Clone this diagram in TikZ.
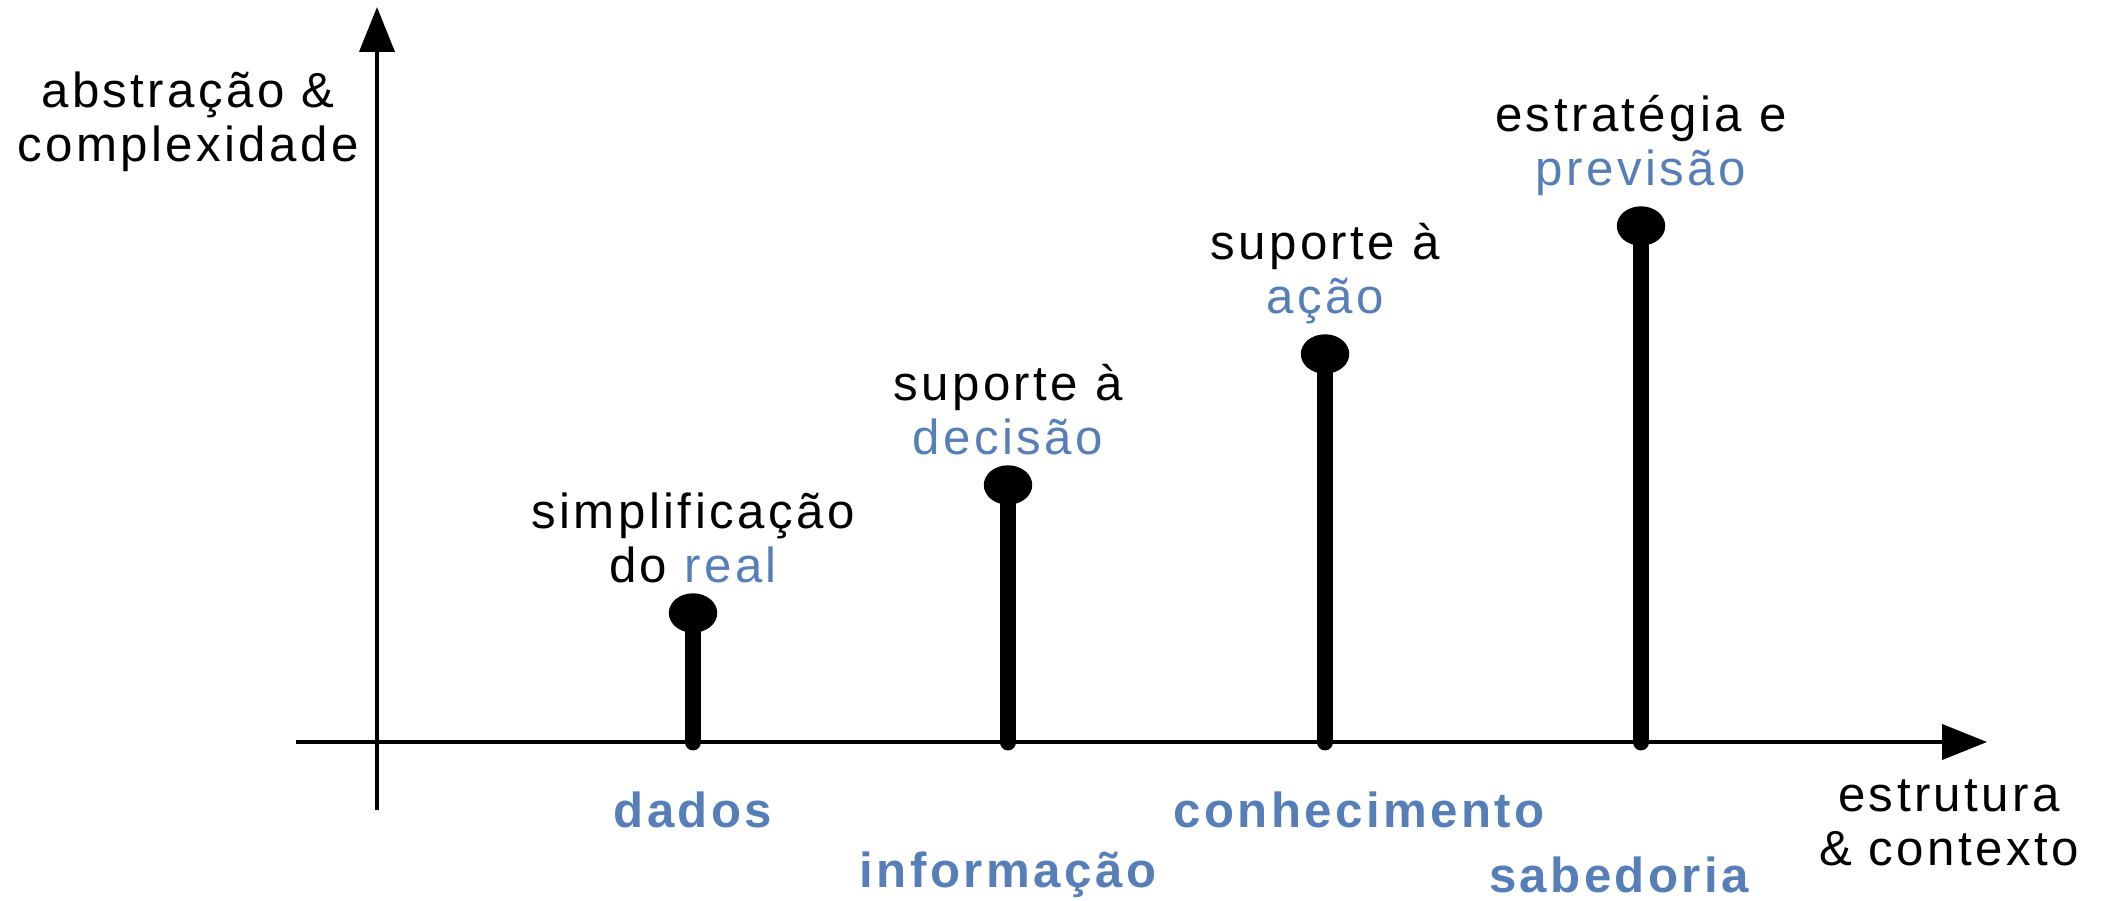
\documentclass[tikz,border=0pt]{standalone}
\usepackage{fontspec}
\setmainfont{Liberation Sans}[LetterSpace=7]
\usepackage{xcolor}
\usetikzlibrary{positioning,shapes.geometric,arrows.meta}
\definecolor{dikwblue}{RGB}{86,126,184}

\begin{document}
\begin{tikzpicture}[
    axis line/.style={line width=1.15pt, -{Triangle[length=4.5mm, width=3.5mm]}},
    stem/.style={line width=4.8pt, line cap=round},
    knob/.style={draw, fill, ellipse, minimum width=4.7mm, minimum height=3.8mm, inner sep=0pt},
    note/.style={align=center, inner sep=0pt, font=\fontsize{14}{15.3}\selectfont},
    level/.style={align=center, inner sep=0pt, text=dikwblue, font=\fontsize{14}{15.3}\selectfont\bfseries},
    node distance=1mm]
    \useasboundingbox (0,0) rectangle (21.05,9);

    % axes
    \coordinate (ybot) at (3.77,0.90);
    \coordinate (ytop) at (3.77,8.93);
    \coordinate (xleft) at (2.96,1.58);
    \coordinate (xright) at (19.87,1.58);
    \draw[axis line] (ybot) -- (ytop);
    \draw[axis line] (xleft) -- (xright);
    \node[note] (ylab) at (1.88,7.78) {abstração \&\\complexidade};
    \node[note] (xlab) at (19.49,0.77) {estrutura\\\& contexto};

    % stems
    \coordinate (b1) at (6.93,1.58);
    \coordinate (b2) at (10.08,1.58);
    \coordinate (b3) at (13.25,1.58);
    \coordinate (b4) at (16.41,1.58);
    \node[knob] (k1) at (6.93,2.87) {};
    \node[knob] (k2) at (10.08,4.15) {};
    \node[knob] (k3) at (13.25,5.46) {};
    \node[knob] (k4) at (16.41,6.74) {};
    \draw[stem] (b1) -- (k1.center);
    \draw[stem] (b2) -- (k2.center);
    \draw[stem] (b3) -- (k3.center);
    \draw[stem] (b4) -- (k4.center);

    \node[note, above=of k1] (n1) {simplificação\\do {\color{dikwblue}real}};
    \node[note, above=of k2] (n2) {suporte à\\{\color{dikwblue}decisão}};
    \node[note, above=of k3] (n3) {suporte à\\{\color{dikwblue}ação}};
    \node[note, above=of k4] (n4) {estratégia e\\{\color{dikwblue}previsão}};

    % levels
    \node[level] (dados) at (6.93,0.90) {dados};
    \node[level] (info) at (10.08,0.25) {informação};
    \node[level] (conh) at (13.59,0.90) {conhecimento};
    \node[level] (sab) at (16.19,0.25) {sabedoria};
\end{tikzpicture}
\end{document}
